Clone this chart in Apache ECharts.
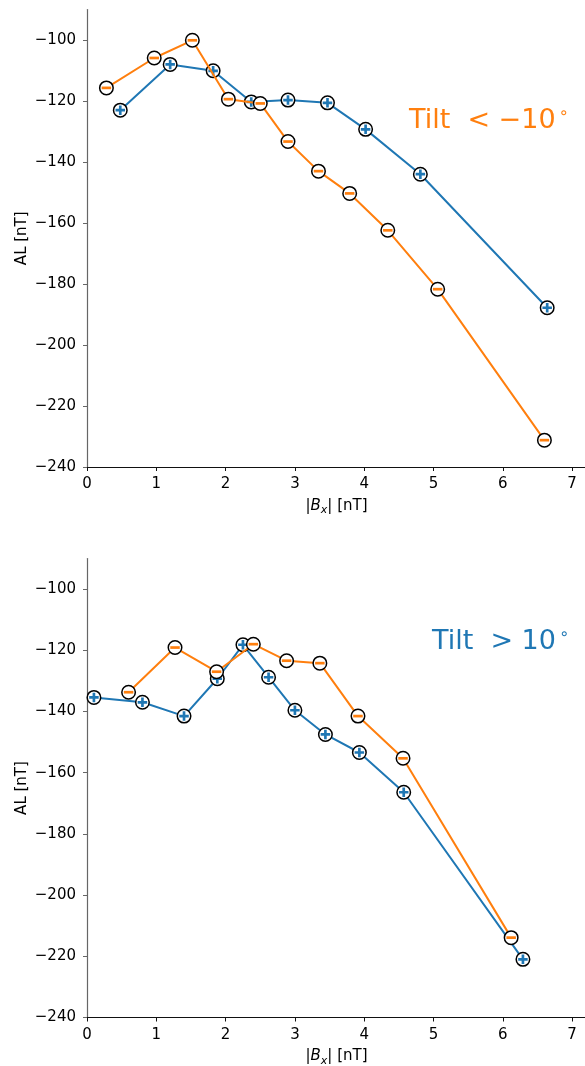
<!DOCTYPE html>
<html>
<head>
<meta charset="utf-8">
<script src="https://cdn.jsdelivr.net/npm/echarts@6/dist/echarts.min.js"></script>
<style>
html,body{margin:0;padding:0;background:#fff;}
#chart{width:585px;height:1066px;}
</style>
</head>
<body>
<div id="chart"></div>
<script>
// Top panel: Tilt < -10°
const topPlusX  = [0.48, 1.20, 1.82, 2.37, 2.90, 3.47, 4.02, 4.81, 6.64];
const topPlusY  = [-123.0, -108.0, -110.1, -120.3, -119.7, -120.6, -129.3, -144.0, -187.8];
const topMinusX = [0.28, 0.97, 1.52, 2.04, 2.50, 2.90, 3.34, 3.79, 4.34, 5.06, 6.60];
const topMinusY = [-115.7, -105.9, -100.1, -119.4, -120.8, -133.3, -143.0, -150.3, -162.4, -181.7, -231.2];
// Bottom panel: Tilt > 10°
const botPlusX  = [0.10, 0.80, 1.40, 1.88, 2.25, 2.62, 3.00, 3.44, 3.93, 4.57, 6.29];
const botPlusY  = [-135.4, -137.0, -141.5, -129.3, -118.2, -128.8, -139.6, -147.5, -153.4, -166.4, -221.0];
const botMinusX = [0.60, 1.27, 1.87, 2.40, 2.88, 3.36, 3.91, 4.56, 6.12];
const botMinusY = [-133.7, -119.1, -127.0, -118.0, -123.4, -124.2, -141.5, -155.3, -213.9];
// Axes
const xTicks = [0, 1, 2, 3, 4, 5, 6, 7];
const yTicks = [-240, -220, -200, -180, -160, -140, -120, -100];
const topLabel = ['Tilt  < −10', '∘'];
const botLabel = ['Tilt  > 10', '∘'];

const BLUE = '#1f77b4', ORANGE = '#ff7f0e';
const FONT = 'DejaVu Sans';
const PLUS = 'path://M3.6,0H6.4V3.6H10V6.4H6.4V10H3.6V6.4H0V3.6H3.6Z';
const MINUS = 'path://M0,0H10V2.8H0Z';

function pairs(xs, ys) { return xs.map((x, i) => [x, ys[i]]); }
function fmtMinus(v) { return String(v).replace('-', '\u2212'); }

function xAxis(gi) {
  return {
    type: 'value', gridIndex: gi, min: 0, max: 7.2, interval: 1,
    axisLine: { show: true, lineStyle: { color: '#111', width: 1.2 } },
    axisTick: { show: true, length: 4, lineStyle: { color: '#111', width: 1 },
      customValues: xTicks },
    axisLabel: { fontFamily: FONT, fontSize: 15, color: '#000', margin: 10,
      customValues: xTicks, formatter: v => fmtMinus(v) },
    splitLine: { show: false },
    name: '|{i|B}{s|x}| [nT]', nameLocation: 'middle', nameGap: 29, nameMoveOverlap: false,
    nameTextStyle: { fontFamily: FONT, fontSize: 15, color: '#000',
      rich: {
        i: { fontFamily: FONT, fontSize: 15, fontStyle: 'italic', color: '#000' },
        s: { fontFamily: FONT, fontSize: 11, fontStyle: 'italic', color: '#000', padding: [9, 0, 0, 0] }
      } }
  };
}
function yAxis(gi) {
  return {
    type: 'value', gridIndex: gi, min: -240, max: -90, interval: 20,
    axisLine: { show: true, lineStyle: { color: '#666', width: 1.2 } },
    axisTick: { show: true, length: 4, lineStyle: { color: '#666', width: 1 },
      customValues: yTicks },
    axisLabel: { fontFamily: FONT, fontSize: 15, color: '#000', margin: 11,
      customValues: yTicks, formatter: v => fmtMinus(v) },
    splitLine: { show: false },
    name: 'AL [nT]', nameLocation: 'middle', nameGap: 57, nameMoveOverlap: false,
    nameTextStyle: { fontFamily: FONT, fontSize: 15, color: '#000' }
  };
}

function lineSeries(gi, xs, ys, color, z) {
  return {
    type: 'line', xAxisIndex: gi, yAxisIndex: gi, data: pairs(xs, ys), z: z,
    symbol: 'circle', symbolSize: 13.5, showAllSymbol: true,
    lineStyle: { color: color, width: 2 },
    itemStyle: { color: '#fff', borderColor: '#000', borderWidth: 1.5 },
    emphasis: { disabled: true }, animation: false
  };
}
function signSeries(gi, xs, ys, color, plus, z) {
  return {
    type: 'scatter', xAxisIndex: gi, yAxisIndex: gi, data: pairs(xs, ys), z: z,
    symbol: plus ? PLUS : MINUS, symbolSize: plus ? [9.5, 9.5] : [9.5, 2.7],
    symbolKeepAspect: false,
    itemStyle: { color: color, opacity: 1 }, silent: true,
    emphasis: { disabled: true }, animation: false
  };
}

const chart = echarts.init(document.getElementById('chart'), null, { renderer: 'canvas' });
chart.setOption({
  backgroundColor: '#fff',
  animation: false,
  grid: [
    { left: 87, top: 9.5, width: 499, height: 457.5, containLabel: false, outerBoundsMode: 'none' },
    { left: 87, top: 558.5, width: 499, height: 459, containLabel: false, outerBoundsMode: 'none' }
  ],
  xAxis: [xAxis(0), xAxis(1)],
  yAxis: [yAxis(0), yAxis(1)],
  series: [
    lineSeries(0, topPlusX, topPlusY, BLUE, 2),
    signSeries(0, topPlusX, topPlusY, BLUE, true, 3),
    lineSeries(0, topMinusX, topMinusY, ORANGE, 4),
    signSeries(0, topMinusX, topMinusY, ORANGE, false, 5),
    lineSeries(1, botPlusX, botPlusY, BLUE, 2),
    signSeries(1, botPlusX, botPlusY, BLUE, true, 3),
    lineSeries(1, botMinusX, botMinusY, ORANGE, 4),
    signSeries(1, botMinusX, botMinusY, ORANGE, false, 5)
  ],
  graphic: [
    { type: 'text', left: 409, top: 106, silent: true,
      style: { text: topLabel[0] + '{s|' + topLabel[1] + '}', fill: ORANGE,
        font: '27px "DejaVu Sans"',
        rich: { s: { fontSize: 16, fontFamily: FONT, fill: ORANGE, padding: [0, 0, 14, 3] } } } },
    { type: 'text', left: 432, top: 627, silent: true,
      style: { text: botLabel[0] + '{s|' + botLabel[1] + '}', fill: BLUE,
        font: '27px "DejaVu Sans"',
        rich: { s: { fontSize: 16, fontFamily: FONT, fill: BLUE, padding: [0, 0, 14, 3] } } } }
  ]
});
</script>
</body>
</html>
